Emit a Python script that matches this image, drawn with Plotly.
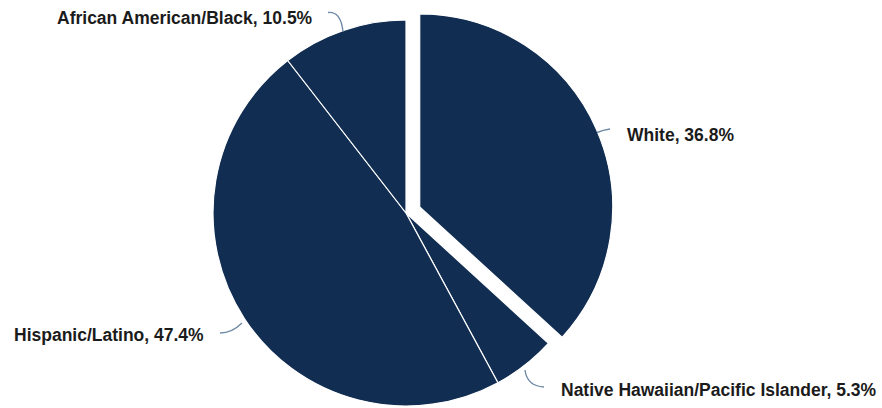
import math
import plotly.graph_objects as go

# Share of students by race/ethnicity (percent)
labels = ["White", "Native Hawaiian/Pacific Islander", "Hispanic/Latino", "African American/Black"]
values = [36.8, 5.3, 47.4, 10.5]

W, H = 882, 408
NAVY = "#112d52"
CLEAR = "rgba(0,0,0,0)"
LEADER = "#6f8aa6"

CX, CY, R = 406, 213, 193   # pie centre and radius in pixels
PULL_PX = 15                 # offset of the exploded first slice


def domain_for(cx, cy, r):
    x = [(cx - r) / W, (cx + r) / W]
    y0 = 1 - (cy + r) / H
    return dict(x=x, y=[y0, y0 + 2 * r / H])


# The first slice is exploded along its bisector
total = sum(values)
mid = 2 * math.pi * (values[0] / 2) / total
pcx = CX + PULL_PX * math.sin(mid)
pcy = CY - PULL_PX * math.cos(mid)

n = len(values)
base_colors = [CLEAR] + [NAVY] * (n - 1)
base_lines = [CLEAR] + ["white"] * (n - 1)
pull_colors = [NAVY] + [CLEAR] * (n - 1)
pull_lines = ["white"] + [CLEAR] * (n - 1)

fig = go.Figure()
fig.add_trace(go.Pie(
    labels=labels, values=values, sort=False, direction="clockwise", rotation=0,
    marker=dict(colors=base_colors, line=dict(color=base_lines, width=1.2)),
    textinfo="none", hoverinfo="skip", showlegend=False,
    domain=domain_for(CX, CY, R),
))
fig.add_trace(go.Pie(
    labels=labels, values=values, sort=False, direction="clockwise", rotation=0,
    marker=dict(colors=pull_colors, line=dict(color=pull_lines, width=1.2)),
    textinfo="none", hoverinfo="skip", showlegend=False,
    domain=domain_for(pcx, pcy, R),
))


def px(x):
    return x / W


def py(y):
    return 1 - y / H


# Label placement (pixel anchor, x-anchor) and curved leader lines
label_pos = {
    "White": (625, 135, "left"),
    "Native Hawaiian/Pacific Islander": (559, 390, "left"),
    "Hispanic/Latino": (12, 335, "left"),
    "African American/Black": (315, 18, "right"),
}
leaders = {
    "White": [(597, 132.5), (603, 130), (610, 129)],
    "Native Hawaiian/Pacific Islander": [(525, 370), (527, 386), (544, 387)],
    "Hispanic/Latino": [(220, 333), (232, 333), (242, 323)],
    "African American/Black": [(328, 12.5), (341, 11), (343, 32)],
}

annotations = []
shapes = []
for lab, val in zip(labels, values):
    x, y, anchor = label_pos[lab]
    annotations.append(dict(
        x=px(x), y=py(y), xref="paper", yref="paper",
        text=f"{lab}, {val}%", showarrow=False,
        xanchor=anchor, yanchor="middle",
        font=dict(family="Liberation Sans, Arial, sans-serif", size=17.5,
                  color="#1b1b1b", weight="bold"),
    ))
    (x0, y0), (xc, yc), (x1, y1) = leaders[lab]
    shapes.append(dict(
        type="path", xref="paper", yref="paper",
        path=f"M {px(x0)},{py(y0)} Q {px(xc)},{py(yc)} {px(x1)},{py(y1)}",
        line=dict(color=LEADER, width=1.4),
    ))

fig.update_layout(
    width=W, height=H, autosize=False,
    margin=dict(l=0, r=0, t=0, b=0),
    paper_bgcolor="white", plot_bgcolor="white",
    annotations=annotations, shapes=shapes,
)

fig.write_html("out.html")
